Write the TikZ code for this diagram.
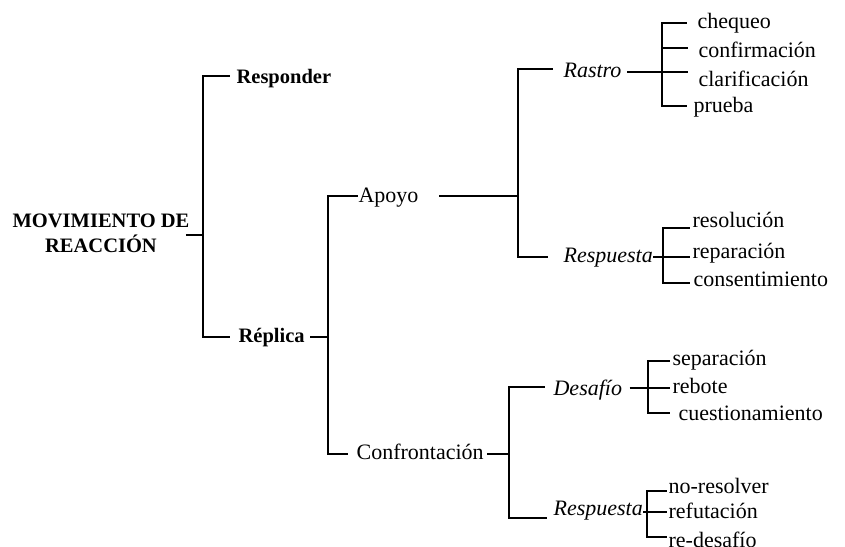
\documentclass[tikz,border=0pt]{standalone}
\usepackage{fontspec}
\setmainfont{Liberation Serif}
\begin{document}
\begin{tikzpicture}[x=1pt,y=-1pt,line width=1.2pt,
  lbl/.style={inner sep=0pt,anchor=base west,font=\fontsize{22}{24}\selectfont},
  bl/.style={inner sep=0pt,anchor=base west,font=\fontsize{20.5}{24}\selectfont\bfseries},
  il/.style={inner sep=0pt,anchor=base west,font=\fontsize{22}{24}\selectfont\itshape}]
\useasboundingbox (0,0) rectangle (845,546);
\fill[white] (0,0) rectangle (845,546);
% nodes
\node[inner sep=0pt,align=center,font=\fontsize{20.5}{25}\selectfont\bfseries] (root) at (101,233) {MOVIMIENTO DE\\REACCIÓN};
\node[bl] (resp) at (236,83) {Responder};
\node[bl] (repl) at (238,342) {Réplica};
\node[lbl] (apoyo) at (358,202) {Apoyo};
\node[lbl] (conf) at (356,459) {Confrontación};
\node[il] (rastro) at (563,77) {Rastro};
\node[il] (respA) at (563,262) {Respuesta};
\node[il] (desaf) at (553,395) {Desafío};
\node[il] (respB) at (553,515) {Respuesta};
\node[lbl] (cheq) at (697,28) {chequeo};
\node[lbl] (confi) at (698,57) {confirmación};
\node[lbl] (clar) at (698,86) {clarificación};
\node[lbl] (prue) at (693,112) {prueba};
\node[lbl] (reso) at (692,227) {resolución};
\node[lbl] (repa) at (692,258) {reparación};
\node[lbl] (cons) at (693,286) {consentimiento};
\node[lbl] (sepa) at (672,365) {separación};
\node[lbl] (rebo) at (672,393) {rebote};
\node[lbl] (cues) at (678,420) {cuestionamiento};
\node[lbl] (nores) at (668,493) {no-resolver};
\node[lbl] (refu) at (668,518) {refutación};
\node[lbl] (redes) at (668,547) {re-desafío};
% junctions
\coordinate (j0) at (203,235);
\coordinate (j1) at (328,337);
\coordinate (j2) at (518,196);
\coordinate (j3) at (662,72);
\coordinate (j4) at (663,257);
\coordinate (j5) at (509,454);
\coordinate (j6) at (648,388);
\coordinate (j7) at (647,512);
% parent stubs
\draw ([xshift=-4pt]j0 -| root.east) -- (j0);
\draw ([xshift=5pt]j1 -| repl.east) -- (j1);
\draw ([xshift=20pt]j2 -| apoyo.east) -- (j2);
\draw ([xshift=5pt]j3 -| rastro.east) -- (j3);
\draw (j4 -| respA.east) -- (j4);
\draw ([xshift=3pt]j5 -| conf.east) -- (j5);
\draw ([xshift=7pt]j6 -| desaf.east) -- (j6);
\draw (j7 -| respB.east) -- (j7);
% children
\draw (j0) |- ([shift={(-6,-7)}]resp.base west);
\draw (j0) |- ([shift={(-8,-5)}]repl.base west);
\draw (j1) |- ([shift={(0,-6)}]apoyo.base west);
\draw (j1) |- ([shift={(-8,-5)}]conf.base west);
\draw (j2) |- ([shift={(-10,-8)}]rastro.base west);
\draw (j2) |- ([shift={(-15,-5)}]respA.base west);
\draw (j3) |- ([shift={(-10,-5)}]cheq.base west);
\draw (j3) |- ([shift={(-10,-9)}]confi.base west);
\draw (j3) |- ([shift={(-10,-14)}]clar.base west);
\draw (j3) |- ([shift={(-6,-6)}]prue.base west);
\draw (j4) |- ([shift={(-2,1)}]reso.base west);
\draw (j4) |- ([shift={(-2,-1)}]repa.base west);
\draw (j4) |- ([shift={(-3,-3)}]cons.base west);
\draw (j5) |- ([shift={(-8,-8)}]desaf.base west);
\draw (j5) |- ([shift={(-6,3)}]respB.base west);
\draw (j6) |- ([shift={(-2,-4)}]sepa.base west);
\draw (j6) |- ([shift={(-2,-5)}]rebo.base west);
\draw (j6) |- ([shift={(-8,-7)}]cues.base west);
\draw (j7) |- ([shift={(-1,-2)}]nores.base west);
\draw (j7) |- ([shift={(-1,-6)}]refu.base west);
\draw (j7) |- ([shift={(-1,-10)}]redes.base west);
\end{tikzpicture}
\end{document}
